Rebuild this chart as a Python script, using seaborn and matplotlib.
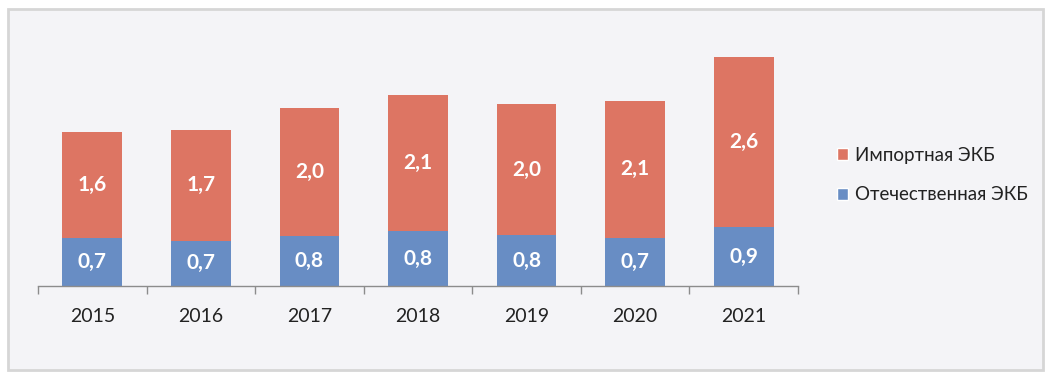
import matplotlib
matplotlib.use('Agg')
import matplotlib.pyplot as plt
import numpy as np
import seaborn as sns
from matplotlib.patches import Patch, Rectangle

years = ["2015", "2016", "2017", "2018", "2019", "2020", "2021"]
domestic = [0.74, 0.69, 0.76, 0.84, 0.78, 0.74, 0.90]
imported = [1.62, 1.70, 1.97, 2.09, 2.00, 2.09, 2.60]
series_names = ["Импортная ЭКБ", "Отечественная ЭКБ"]

RED = '#DD7563'
BLUE = '#688DC4'

sns.set_style("white")
plt.rcParams['font.family'] = ['Lato', 'DejaVu Sans']

fig = plt.figure(figsize=(10.51, 3.79), dpi=100)
fig.patch.set_facecolor("#fff")
fig.patches.append(Rectangle((8 / 1051, 9 / 379), 1035 / 1051, 361 / 379,
                             transform=fig.transFigure, facecolor="#f4f4f7",
                             edgecolor="#d6d6d6", linewidth=2, zorder=-5))

ax = fig.add_axes([38 / 1051, 93 / 379, 760 / 1051, 264 / 379])
ax.set_facecolor("none")
ax.set_zorder(2)

total = np.array(domestic) + np.array(imported)
sns.barplot(x=years, y=total, color=RED, saturation=1, width=0.55, linewidth=0, ax=ax)
sns.barplot(x=years, y=domestic, color=BLUE, saturation=1, width=0.55, linewidth=0, ax=ax)

for i in range(len(years)):
    ax.text(i, domestic[i] / 2, f"{domestic[i]:.1f}".replace(".", ","),
            ha="center", va="center", color="white", fontsize=15, fontweight="bold")
    ax.text(i, domestic[i] + imported[i] / 2, f"{imported[i]:.1f}".replace(".", ","),
            ha="center", va="center", color="white", fontsize=15, fontweight="bold")

ax.set_ylim(0, 4.04)
ax.set_xlim(-0.5, len(years) - 0.5)
ax.set_yticks([])
for s in ["top", "right", "left"]:
    ax.spines[s].set_visible(False)
ax.spines["bottom"].set_color("#8c8c8c")
ax.spines["bottom"].set_linewidth(1)
ax.set_xticks(np.arange(-0.5, len(years)), minor=True)
ax.tick_params(axis="x", which="minor", bottom=True, length=6, color="#8c8c8c",
               width=1, direction="out")
ax.tick_params(axis="x", which="major", length=0, pad=16, labelsize=14, labelcolor="#222")
ax.set_xlabel("")
ax.set_ylabel("")

handles = [Patch(facecolor=RED, label=series_names[0]),
           Patch(facecolor=BLUE, label=series_names[1])]
fig.legend(handles=handles, loc="center left", bbox_to_anchor=(820 / 1051, 1 - 175 / 379),
           frameon=False, fontsize=13.5, handlelength=0.6, handleheight=0.6,
           handletextpad=0.35, labelspacing=1.2, labelcolor="#222")

fig.savefig("out.png", dpi=100, facecolor="#fff")
